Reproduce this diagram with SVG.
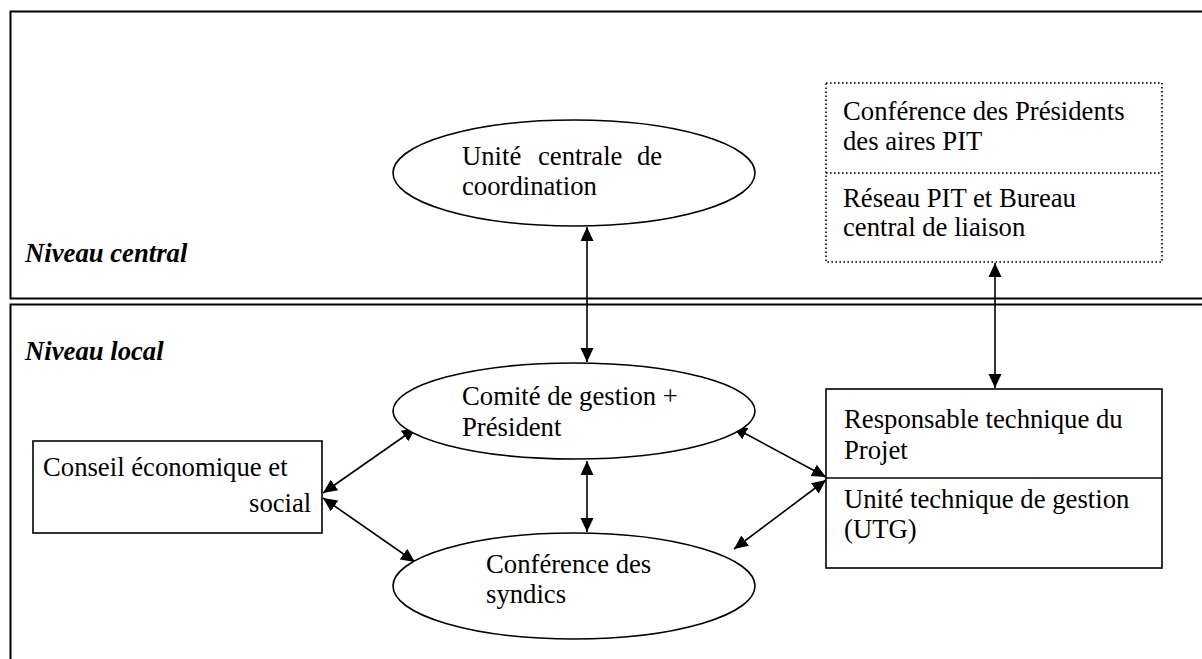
<svg xmlns="http://www.w3.org/2000/svg" width="1202" height="659" viewBox="0 0 1202 659">
<style>
text{font-family:"Liberation Serif","Times New Roman",serif;font-size:26.7px;fill:#000}
.lvl{font-weight:bold;font-style:italic}
.shape{fill:#fff;stroke:#000;stroke-width:1.6}
.dot{fill:#fff;stroke:#000;stroke-width:1.6;stroke-dasharray:1.6 2.4}
.frame{fill:none;stroke:#000;stroke-width:2}
.conn{stroke:#000;stroke-width:1.6;fill:none;marker-start:url(#ah);marker-end:url(#ah)}
</style>
<defs>
<marker id="ah" viewBox="0 0 14 14" refX="14" refY="7" markerWidth="14" markerHeight="14" markerUnits="userSpaceOnUse" orient="auto-start-reverse">
<path d="M0,0.5 L14,7 L0,13.5 Z" fill="#000"/>
</marker>
</defs>
<rect width="1202" height="659" fill="#fff"/>
<g id="level-central">
<path class="frame" d="M1205,11.5 H10.5 V298.5 H1205"/>
<text class="lvl" x="25" y="262">Niveau central</text>
</g>
<g id="level-local">
<path class="frame" d="M1205,304.5 H10.5 V665"/>
<text class="lvl" x="25" y="360">Niveau local</text>
</g>
<g id="connectors">
<line class="conn" x1="587" y1="227" x2="587" y2="362"/>
<line class="conn" x1="995" y1="263" x2="995" y2="388"/>
<line class="conn" x1="587" y1="461" x2="587" y2="532"/>
<line class="conn" x1="323" y1="493" x2="416" y2="428"/>
<line class="conn" x1="323" y1="498" x2="415" y2="562"/>
<line class="conn" x1="733" y1="427" x2="826" y2="477"/>
<line class="conn" x1="826" y1="480" x2="734" y2="549"/>
</g>
<g id="unite-centrale">
<ellipse class="shape" cx="574" cy="173" rx="181" ry="53"/>
<text y="165"><tspan x="462">Unité</tspan><tspan x="538">centrale</tspan><tspan x="637">de</tspan></text>
<text x="462" y="195">coordination</text>
</g>
<g id="conference-presidents">
<rect class="dot" x="826" y="83" width="336" height="179"/>
<line class="dot" x1="826" y1="173" x2="1162" y2="173"/>
<text x="843" y="120">Conférence des Présidents</text>
<text x="843" y="150">des aires PIT</text>
<text x="843" y="207">Réseau PIT et Bureau</text>
<text x="843" y="236">central de liaison</text>
</g>
<g id="comite-gestion">
<ellipse class="shape" cx="574" cy="411" rx="181" ry="48"/>
<text x="462" y="405">Comité de gestion +</text>
<text x="462" y="436">Président</text>
</g>
<g id="conference-syndics">
<ellipse class="shape" cx="574" cy="586" rx="181" ry="53"/>
<text x="486" y="573">Conférence des</text>
<text x="486" y="603">syndics</text>
</g>
<g id="conseil">
<rect class="shape" x="33" y="441" width="289" height="92"/>
<text x="43" y="476">Conseil économique et</text>
<text x="249" y="512">social</text>
</g>
<g id="responsable">
<rect class="shape" x="826" y="389" width="336" height="179"/>
<line class="shape" x1="826" y1="478" x2="1162" y2="478"/>
<text x="844" y="428">Responsable technique du</text>
<text x="844" y="459">Projet</text>
<text x="844" y="508">Unité technique de gestion</text>
<text x="844" y="538">(UTG)</text>
</g>
</svg>
